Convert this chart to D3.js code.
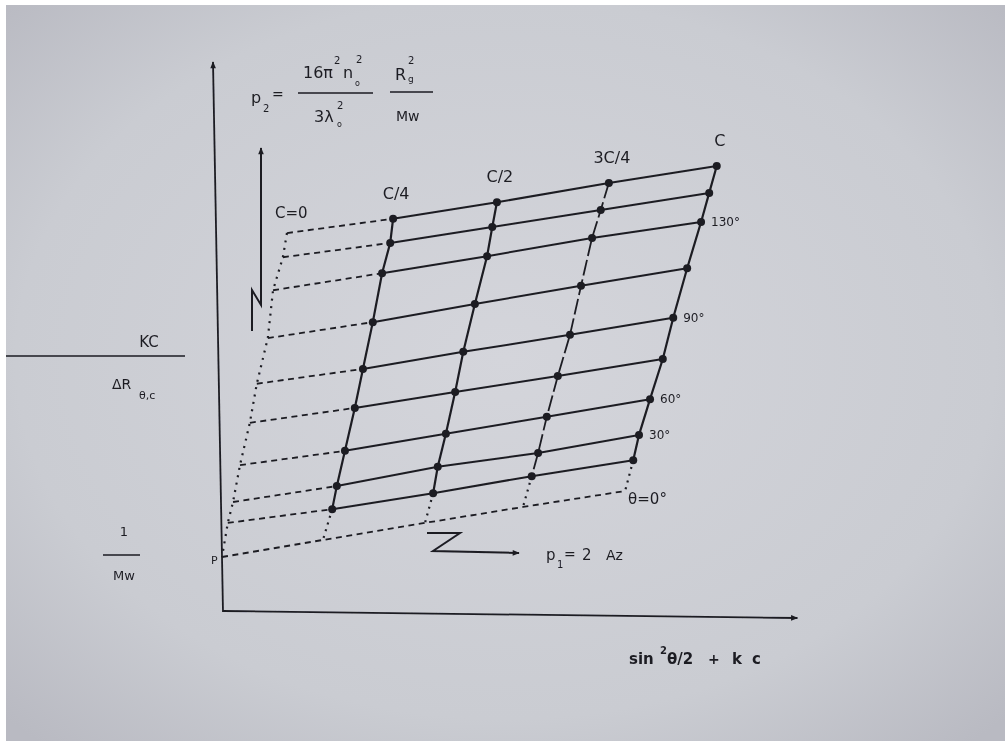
<!DOCTYPE html>
<html><head><meta charset="utf-8">
<script src="https://cdn.jsdelivr.net/npm/d3@7"></script>
<style>html,body{margin:0;padding:0;background:#fff;} svg{display:block;}</style>
</head><body>
<svg id="chart" width="1005" height="745"></svg>
<script>
// ---- data (chart units: x = sin²(θ/2) + k c, y = Kc/ΔR) ----
// rows are ordered from the highest scattering angle (top) to the lowest
const concLabels = ["C/4", "C/2", "3C/4", "C"];
const angleLabels = ["", "", "130°", "", "90°", "", "60°", "30°", ""];

const xC4  = [2.95, 2.90, 2.76, 2.60, 2.43, 2.29, 2.12, 1.98, 1.90];
const yC4  = [7.15, 6.71, 6.16, 5.27, 4.42, 3.71, 2.93, 2.29, 1.87];
const xC2  = [4.74, 4.66, 4.57, 4.36, 4.16, 4.02, 3.86, 3.72, 3.64];
const yC2  = [7.45, 7.00, 6.47, 5.60, 4.73, 4.00, 3.24, 2.64, 2.16];
const x3C4 = [6.67, 6.53, 6.38, 6.19, 6.00, 5.79, 5.60, 5.45, 5.34];
const y3C4 = [7.80, 7.31, 6.80, 5.93, 5.04, 4.29, 3.55, 2.89, 2.47];
const xC   = [8.53, 8.40, 8.26, 8.02, 7.78, 7.60, 7.38, 7.19, 7.09];
const yC   = [8.11, 7.62, 7.09, 6.25, 5.35, 4.60, 3.87, 3.22, 2.76];

// extrapolation to c = 0 (one point per angle)
const xC0 = [1.12, 1.05, 0.88, 0.79, 0.60, 0.48, 0.31, 0.19, 0.10];
const yC0 = [6.89, 6.45, 5.85, 4.98, 4.15, 3.44, 2.67, 2.00, 1.62];
// extrapolation to θ = 0 (P, then one point per concentration)
const xT0 = [0.00, 1.74, 3.50, 5.19, 6.95];
const yT0 = [1.00, 1.31, 1.62, 1.91, 2.20];

// ---- drawing ----
const W = 1005, H = 745;
const svg = d3.select("#chart");
const ink = "#1d1d24";

const defs = svg.append("defs");
const grad = defs.append("radialGradient").attr("id", "paper")
  .attr("cx", "50%").attr("cy", "48%").attr("r", "70%");
grad.append("stop").attr("offset", "0%").attr("stop-color", "#d4d5db");
grad.append("stop").attr("offset", "70%").attr("stop-color", "#caccd2");
grad.append("stop").attr("offset", "100%").attr("stop-color", "#b9bac2");
defs.append("filter").attr("id", "soft")
  .append("feGaussianBlur").attr("stdDeviation", 0.7);
defs.append("marker").attr("id", "arr").attr("viewBox", "0 0 10 10")
  .attr("refX", 9).attr("refY", 5).attr("markerWidth", 9).attr("markerHeight", 7)
  .attr("markerUnits", "userSpaceOnUse").attr("orient", "auto")
  .append("path").attr("d", "M0,1 L10,5 L0,9 Z").attr("fill", ink);

svg.append("rect").attr("width", W).attr("height", H).attr("fill", "#ffffff");
svg.append("rect").attr("x", 6).attr("y", 5).attr("width", W - 6).attr("height", 736)
  .attr("fill", "url(#paper)");

const g = svg.append("g").attr("filter", "url(#soft)");

const x = d3.scaleLinear().domain([0, 10]).range([222, 802]);
const y = d3.scaleLinear().domain([0, 10]).range([612, 62]);

const colsX = [xC4, xC2, x3C4, xC];
const colsY = [yC4, yC2, y3C4, yC];
const nRows = xC4.length;
const line = d3.line().x(d => x(d[0])).y(d => y(d[1]));

// axes
g.append("line").attr("x1", x(0) + 1).attr("y1", y(0)).attr("x2", x(0) - 9).attr("y2", y(10))
  .attr("stroke", ink).attr("stroke-width", 1.8).attr("marker-end", "url(#arr)");
g.append("line").attr("x1", x(0) + 1).attr("y1", y(0) - 1).attr("x2", x(9.92)).attr("y2", y(0) + 6)
  .attr("stroke", ink).attr("stroke-width", 1.8).attr("marker-end", "url(#arr)");

// solid angle rows (measured points)
for (let i = 0; i < nRows; i++) {
  const pts = colsX.map((cx, j) => [cx[i], colsY[j][i]]);
  g.append("path").attr("d", line(pts)).attr("fill", "none")
    .attr("stroke", ink).attr("stroke-width", 2);
}
// concentration columns
colsX.forEach((cx, j) => {
  const pts = cx.map((v, i) => [v, colsY[j][i]]);
  g.append("path").attr("d", line(pts)).attr("fill", "none")
    .attr("stroke", ink).attr("stroke-width", j === 2 ? 1.8 : 2.2)
    .attr("stroke-dasharray", j === 2 ? "16,4" : null);
});
// dashed extrapolation of each row to c = 0
for (let i = 0; i < nRows; i++) {
  g.append("path").attr("d", line([[xC0[i], yC0[i]], [xC4[i], yC4[i]]]))
    .attr("fill", "none").attr("stroke", ink).attr("stroke-width", 1.8)
    .attr("stroke-dasharray", "6,4.5");
}
// dashed θ = 0 line
g.append("path").attr("d", line(xT0.map((v, k) => [v, yT0[k]])))
  .attr("fill", "none").attr("stroke", ink).attr("stroke-width", 1.8)
  .attr("stroke-dasharray", "6,4.5");
// dotted extrapolation of each column to θ = 0
colsX.forEach((cx, j) => {
  g.append("path").attr("d", line([[cx[nRows - 1], colsY[j][nRows - 1]], [xT0[j + 1], yT0[j + 1]]]))
    .attr("fill", "none").attr("stroke", ink).attr("stroke-width", 2.2)
    .attr("stroke-dasharray", "2,5");
});
// dotted c = 0 line down to P
g.append("path").attr("d", line(xC0.map((v, i) => [v, yC0[i]]).concat([[xT0[0], yT0[0]]])))
  .attr("fill", "none").attr("stroke", ink).attr("stroke-width", 2.2)
  .attr("stroke-dasharray", "2,5.5");

// measured points
colsX.forEach((cx, j) => {
  g.selectAll(null).data(cx.map((v, i) => [v, colsY[j][i]])).enter().append("circle")
    .attr("cx", d => x(d[0])).attr("cy", d => y(d[1])).attr("r", 4).attr("fill", ink);
});

// labels
const font = "'DejaVu Sans', 'Liberation Sans', sans-serif";
function txt(px, py, s, size, anchor, weight) {
  return g.append("text").attr("x", px).attr("y", py).attr("font-family", font)
    .attr("font-size", size).attr("fill", ink).attr("text-anchor", anchor || "start")
    .attr("font-weight", weight || "normal").text(s);
}
concLabels.forEach((lab, j) => {
  txt(x(colsX[j][0]) + 3, y(colsY[j][0]) - 20, lab, 16, "middle");
});
angleLabels.forEach((lab, i) => {
  if (lab) txt(x(xC[i]) + 10, y(yC[i]) + 4, lab, 12);
});
txt(x(xC0[0]) - 12, y(yC0[0]) - 15, "C=0", 15);
txt(x(xT0[4]) + 3, y(yT0[4]) + 13, "θ=0°", 15);
txt(x(xT0[0]) - 11, y(yT0[0]) + 7, "P", 11);

// p1 annotation (Z-shaped arrow)
g.append("path").attr("d", "M427,533 L460,533 L433,551 L519,553").attr("fill", "none")
  .attr("stroke", ink).attr("stroke-width", 2).attr("marker-end", "url(#arr)");
txt(546, 560, "p", 15);
txt(557, 568, "1", 10);
txt(564, 559, "=", 14);
txt(582, 560, "2", 15);
txt(606, 560, "Az", 14);

// p2 annotation (N-shaped arrow)
g.append("path").attr("d", "M252,331 L252,290 L261,305 L261,148").attr("fill", "none")
  .attr("stroke", ink).attr("stroke-width", 2).attr("marker-end", "url(#arr)");

// p2 formula
txt(251, 103, "p", 16);
txt(263, 112, "2", 10);
txt(272, 99, "=", 14);
txt(303, 78, "16π", 16);
txt(334, 64, "2", 10);
txt(343, 78, "n", 16);
txt(356, 63, "2", 10);
txt(355, 86, "o", 8);
g.append("line").attr("x1", 298).attr("y1", 93).attr("x2", 373).attr("y2", 93)
  .attr("stroke", ink).attr("stroke-width", 1.6);
txt(314, 122, "3λ", 16);
txt(337, 109, "2", 10);
txt(337, 127, "o", 8);
txt(395, 80, "R", 16);
txt(408, 64, "2", 10);
txt(408, 82, "g", 9);
g.append("line").attr("x1", 390).attr("y1", 92).attr("x2", 433).attr("y2", 92)
  .attr("stroke", ink).attr("stroke-width", 1.6);
txt(396, 121, "Mw", 14);

// y label (left)
txt(149, 347, "KC", 15, "middle");
g.append("line").attr("x1", 6).attr("y1", 356).attr("x2", 185).attr("y2", 356)
  .attr("stroke", ink).attr("stroke-width", 1.6);
txt(112, 389, "ΔR", 14);
txt(139, 399, "θ,c", 11);
txt(124, 536, "1", 13, "middle");
g.append("line").attr("x1", 103).attr("y1", 555).attr("x2", 140).attr("y2", 555)
  .attr("stroke", ink).attr("stroke-width", 1.6);
txt(124, 580, "Mw", 13, "middle");

// x label
txt(629, 664, "sin", 15, "start", "bold");
txt(660, 654, "2", 10, "start", "bold");
txt(667, 664, "θ/2", 15, "start", "bold");
txt(708, 664, "+", 14, "start", "bold");
txt(732, 664, "k", 15, "start", "bold");
txt(752, 664, "c", 15, "start", "bold");
</script>
</body></html>
